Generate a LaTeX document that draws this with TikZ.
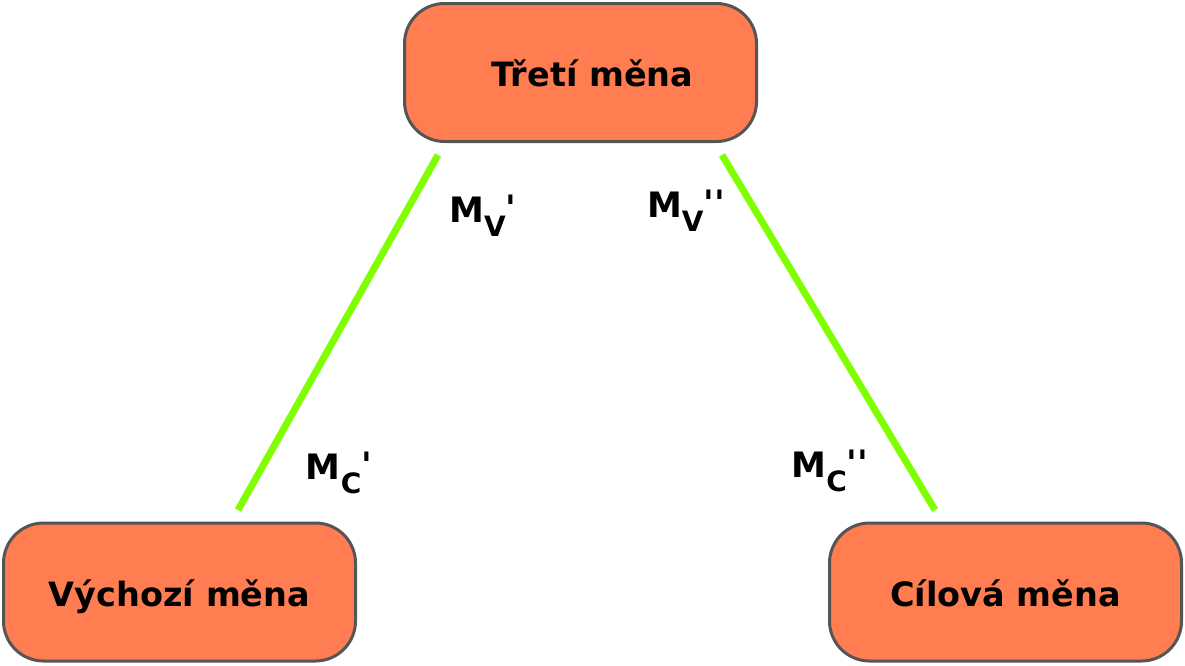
\documentclass[tikz,border=0pt]{standalone}
\usepackage{fontspec}
\setmainfont{DejaVu Sans}[Ligatures=TeXOff]
\definecolor{boxfill}{RGB}{255,125,80}
\definecolor{boxline}{RGB}{85,85,85}
\definecolor{linkgreen}{RGB}{128,255,0}
\newcommand{\ratelabel}[2]{M\raisebox{-0.42em}{\fontsize{28}{30}\selectfont #1}\raisebox{0.05em}{#2}}
\begin{document}
\begin{tikzpicture}[x=1pt,y=-1pt,
  currency/.style={draw=boxline,line width=3pt,fill=boxfill,rounded corners=40pt,
    minimum width=352pt,minimum height=138pt,inner sep=0pt,
    text height=28pt,text depth=0pt,
    font=\fontsize{33.5}{38}\selectfont\bfseries},
  link/.style={draw=linkgreen,line width=7pt},
  rate/.style={font=\fontsize{35}{38}\selectfont\bfseries,inner sep=0pt}]
\useasboundingbox (0,0) rectangle (1185,665);
\node[currency] (top) at (580.5,72.5) {\hspace{24pt}Třetí měna};
\node[currency] (src) at (179.5,592) {Výchozí měna};
\node[currency] (dst) at (1005.5,592) {Cílová měna};
\coordinate (l1) at (438,155);
\coordinate (l2) at (238,510);
\coordinate (r1) at (722,155);
\coordinate (r2) at (935,510);
\draw[link] (l1) -- (l2);
\draw[link] (r1) -- (r2);
\node[rate] (mv1) at (483,216) {\ratelabel{V}{'}};
\node[rate] (mv2) at (686,211) {\ratelabel{V}{''}};
\node[rate] (mc1) at (339,473) {\ratelabel{C}{'}};
\node[rate] (mc2) at (830,471) {\ratelabel{C}{''}};
\end{tikzpicture}
\end{document}
